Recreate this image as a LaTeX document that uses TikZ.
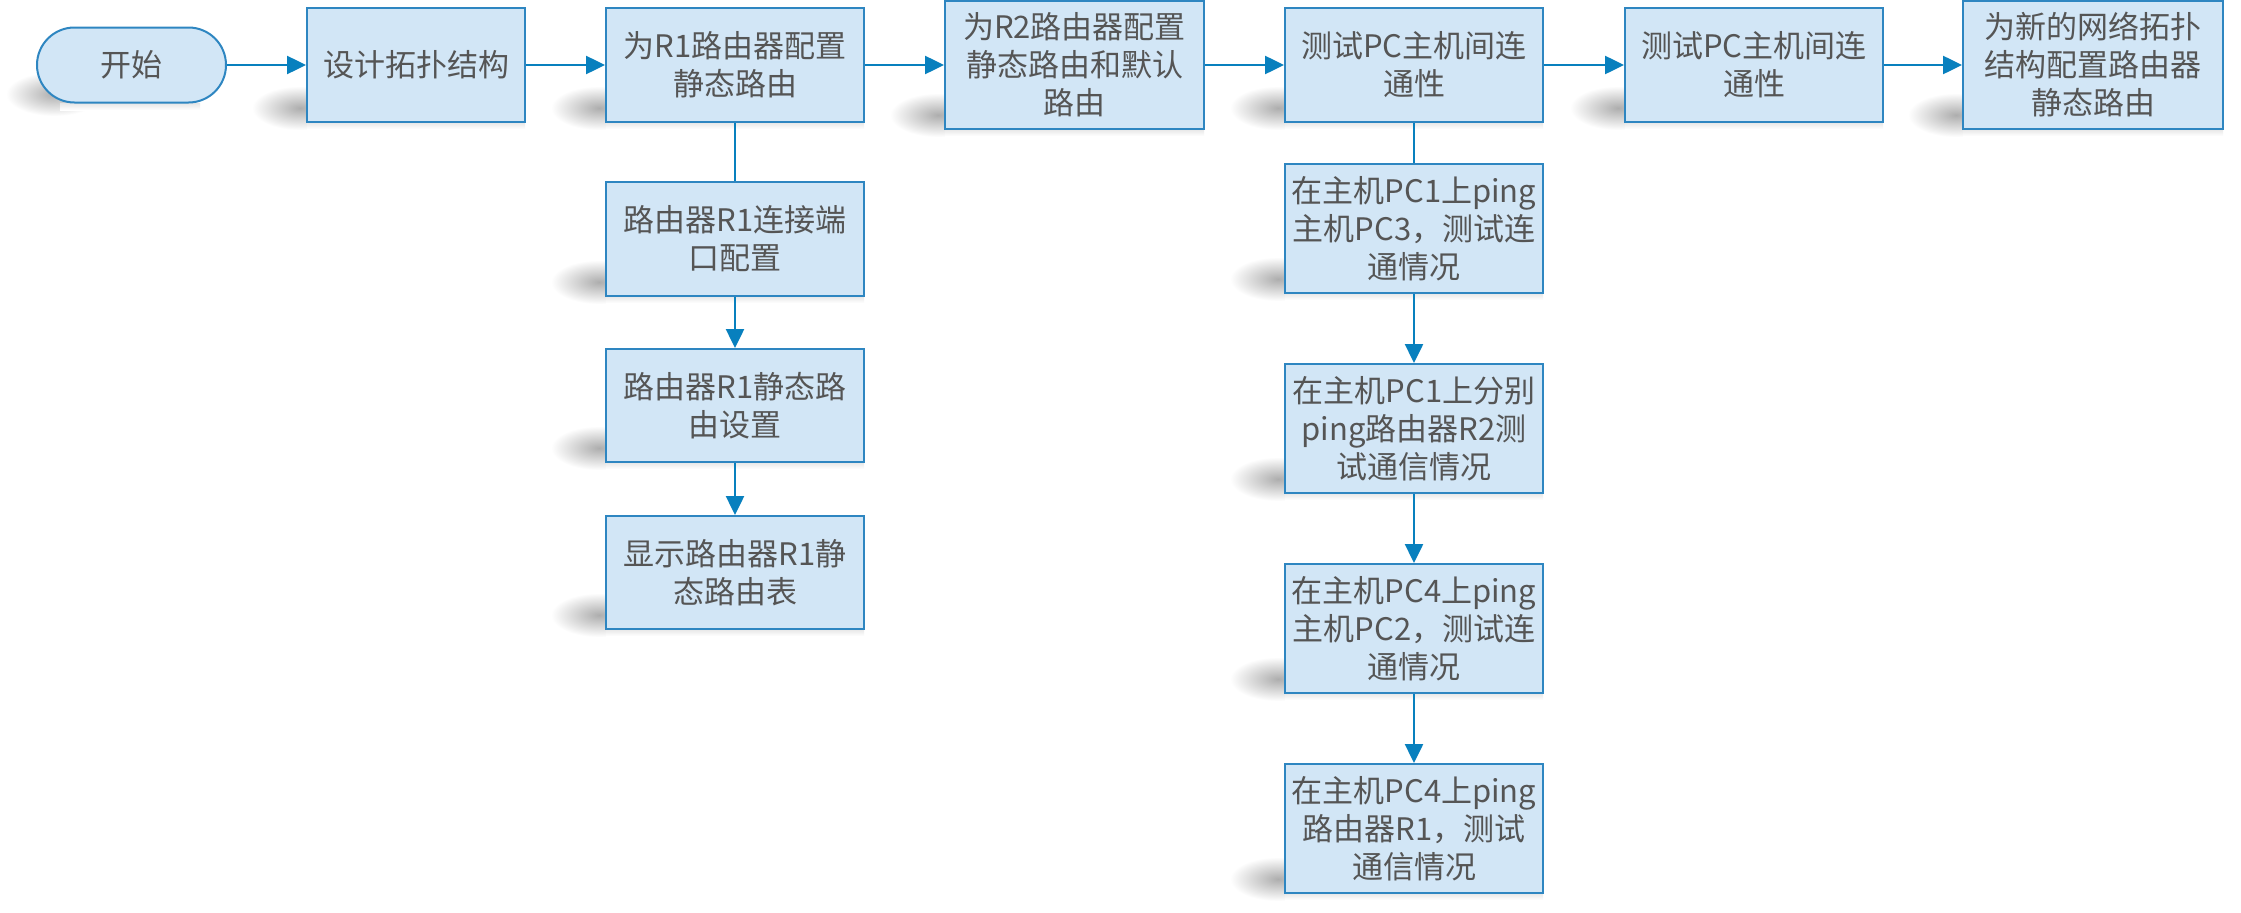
\documentclass[tikz,border=0pt]{standalone}
\usepackage{fontspec}
\setmainfont{Noto Sans CJK SC}
\usetikzlibrary{arrows.meta}
\definecolor{boxfill}{RGB}{210,230,246}
\definecolor{boxline}{RGB}{46,134,193}
\definecolor{arrowc}{RGB}{8,128,190}
\definecolor{txt}{RGB}{85,85,85}
% shadow: #1,#2 = smudge centre; #3,#4 = bottom-left corner; #5 = right x
\newcommand\myshadow[5]{%
  \shade[inner color=black!32, outer color=white] (#1,#2) ellipse [x radius=48pt, y radius=22pt];
  \shade[top color=black!10, bottom color=white] (#3,#4) rectangle (#5,#4+7);
}
\begin{document}
\begin{tikzpicture}[x=1pt,y=-1pt,
  stepbox/.style={draw=boxline, line width=2pt, fill=boxfill, text=txt,
    align=center, font=\fontsize{31}{38}\selectfont, inner sep=0pt},
  conn/.style={draw=arrowc, line width=2.5pt},
  arr/.style={conn, -{Triangle[length=19pt,width=18pt]}}]
\useasboundingbox (0,0) rectangle (2241,913);
\fill[white] (0,0) rectangle (2241,913);
% shadows
\myshadow{54}{94}{60}{103}{200}
\myshadow{300}{108}{307}{122}{525}
\myshadow{599}{108}{606}{122}{864}
\myshadow{938}{115}{945}{129}{1204}
\myshadow{1278}{108}{1285}{122}{1543}
\myshadow{1618}{108}{1625}{122}{1883}
\myshadow{1956}{115}{1963}{129}{2223}
\myshadow{599}{282}{606}{296}{864}
\myshadow{599}{448}{606}{462}{864}
\myshadow{599}{615}{606}{629}{864}
\myshadow{1278}{279}{1285}{293}{1543}
\myshadow{1278}{479}{1285}{493}{1543}
\myshadow{1278}{679}{1285}{693}{1543}
\myshadow{1278}{879}{1285}{893}{1543}
% top row
\node[stepbox, minimum width=189pt, minimum height=75pt, rounded corners=37.5pt] (start) at (131.5,65) {开始};
\node[stepbox, minimum width=218pt, minimum height=114pt] (design) at (416,65) {设计拓扑结构};
\node[stepbox, minimum width=258pt, minimum height=114pt] (r1) at (735,65) {为R1路由器配置\\静态路由};
\node[stepbox, minimum width=259pt, minimum height=128pt] (r2) at (1074.5,65) {为R2路由器配置\\静态路由和默认\\路由};
\node[stepbox, minimum width=258pt, minimum height=114pt] (t1) at (1414,65) {测试PC主机间连\\通性};
\node[stepbox, minimum width=258pt, minimum height=114pt] (t2) at (1754,65) {测试PC主机间连\\通性};
\node[stepbox, minimum width=260pt, minimum height=128pt] (fin) at (2093,65) {为新的网络拓扑\\结构配置路由器\\静态路由};
% column 1
\node[stepbox, minimum width=258pt, minimum height=114pt] (c1a) at (735,239) {路由器R1连接端\\口配置};
\node[stepbox, minimum width=258pt, minimum height=113pt] (c1b) at (735,405.5) {路由器R1静态路\\由设置};
\node[stepbox, minimum width=258pt, minimum height=113pt] (c1c) at (735,572.5) {显示路由器R1静\\态路由表};
% column 2
\node[stepbox, minimum width=258pt, minimum height=129pt] (c2a) at (1414,228.5) {在主机PC1上ping\\主机PC3，测试连\\通情况};
\node[stepbox, minimum width=258pt, minimum height=129pt] (c2b) at (1414,428.5) {在主机PC1上分别\\ping路由器R2测\\试通信情况};
\node[stepbox, minimum width=258pt, minimum height=129pt] (c2c) at (1414,628.5) {在主机PC4上ping\\主机PC2，测试连\\通情况};
\node[stepbox, minimum width=258pt, minimum height=129pt] (c2d) at (1414,828.5) {在主机PC4上ping\\路由器R1，测试\\通信情况};
% connectors
\draw[arr] (start) -- (design);
\draw[arr] (design) -- (r1);
\draw[arr] (r1) -- (r2);
\draw[arr] (r2) -- (t1);
\draw[arr] (t1) -- (t2);
\draw[arr] (t2) -- (fin);
\draw[conn, line width=2pt] (r1) -- (c1a);
\draw[arr] (c1a) -- (c1b);
\draw[arr] (c1b) -- (c1c);
\draw[conn, line width=2pt] (t1) -- (c2a);
\draw[arr] (c2a) -- (c2b);
\draw[arr] (c2b) -- (c2c);
\draw[arr] (c2c) -- (c2d);
\end{tikzpicture}
\end{document}
